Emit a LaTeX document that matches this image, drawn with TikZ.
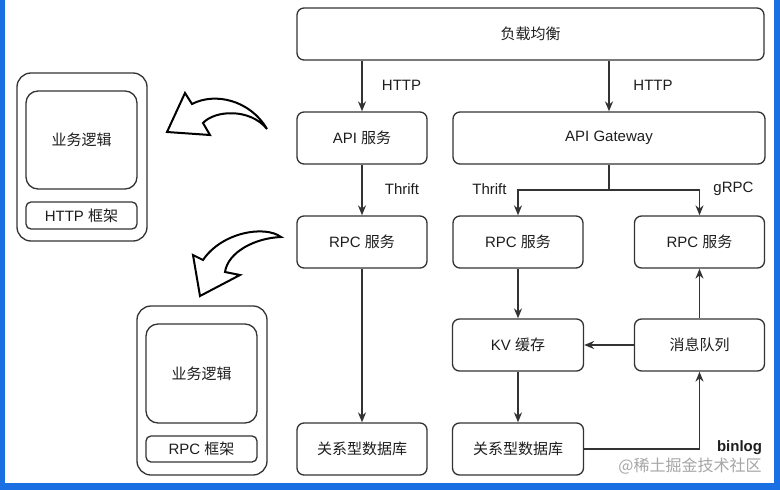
\documentclass[tikz,border=0pt]{standalone}
\usepackage{fontspec}
\setmainfont{Liberation Sans}
\newfontfamily\cjk{Noto Sans CJK SC}
\newcommand\zh[1]{{\cjk #1}}
\usetikzlibrary{arrows.meta}
\definecolor{edge}{HTML}{333333}
\definecolor{txt}{HTML}{1E1E1E}
\definecolor{scrblue}{HTML}{1A6FE3}
\tikzset{
  box/.style={draw=edge, line width=1.3pt, rounded corners=7pt, fill=white,
    text=txt, font=\fontsize{15}{18}\selectfont, inner sep=0pt, minimum height=52pt},
  frame/.style={draw=edge, line width=1.3pt, rounded corners=14pt, inner sep=0pt},
  inner/.style={draw=edge, line width=1.3pt, rounded corners=12pt, inner sep=0pt,
    text=txt, font=\fontsize{15}{18}\selectfont},
  fw/.style={draw=edge, line width=1.3pt, rounded corners=5pt, inner sep=0pt,
    text=txt, font=\fontsize{15}{18}\selectfont},
  lbl/.style={text=txt, font=\fontsize{15}{18}\selectfont, inner sep=0pt},
  conn/.style={draw=edge, line width=1.3pt},
  arr/.style={conn, -{Stealth[length=10pt,width=8pt]}},
  bigarrow/.style={draw=black, line width=2pt, fill=white, line join=miter},
}
\begin{document}
\begin{tikzpicture}[x=1pt,y=-1pt]
\path[use as bounding box, fill=white] (0,0) rectangle (780,490);
% screen border strips
\fill[scrblue] (0,0) rectangle (5,490);
\fill[scrblue] (774,0) rectangle (780,490);
\fill[scrblue] (0,483) rectangle (780,490);

% main boxes
\node[box, minimum width=467pt] (lb) at (530.5,34) {\zh{负载均衡}};
\node[box, minimum width=130pt] (api) at (362,138) {API \zh{服务}};
\node[box, minimum width=312pt] (gw) at (609,138) {API Gateway};
\node[box, minimum width=130pt] (rpc1) at (362,242) {RPC \zh{服务}};
\node[box, minimum width=130pt] (rpc2) at (518,242) {RPC \zh{服务}};
\node[box, minimum width=130pt] (rpc3) at (699.5,242) {RPC \zh{服务}};
\node[box, minimum width=131pt] (kv) at (518,345) {KV \zh{缓存}};
\node[box, minimum width=130pt] (mq) at (699.5,345) {\zh{消息队列}};
\node[box, minimum width=130pt] (db1) at (362,449) {\zh{关系型数据库}};
\node[box, minimum width=131pt] (db2) at (518,449) {\zh{关系型数据库}};

% connectors
\draw[arr] (lb.south -| api.north) -- (api.north);
\draw[arr] (lb.south -| gw.north) -- (gw.north);
\draw[arr] (api.south) -- (rpc1.north);
\draw[arr] (rpc1.south) -- (db1.north);
\coordinate (gwsplit) at (609,190);
\draw[conn] (gw.south) -- (gwsplit);
\draw[arr] (gwsplit) -| (rpc2.north);
\draw[arr] (gwsplit) -| (rpc3.north);
\draw[arr] (rpc2.south) -- (kv.north);
\draw[arr] (kv.south) -- (db2.north);
\draw[arr] (mq.west) -- (kv.east);
\draw[arr] (mq.north) -- (rpc3.south);
\draw[arr] (db2.east) -| (mq.south);

% labels
\node[lbl] (l1) at (401.5,85) {HTTP};
\node[lbl] (l2) at (653,85) {HTTP};
\node[lbl] (l3) at (402,189) {Thrift};
\node[lbl] (l4) at (489.5,189) {Thrift};
\node[lbl] (l5) at (733.5,189) {gRPC};
\node[lbl, font=\fontsize{15}{18}\selectfont\bfseries] (l6) at (739.5,448) {binlog};

% left frames
\node[frame, minimum width=130pt, minimum height=168pt] (f1) at (82,157) {};
\node[inner, minimum width=111pt, minimum height=98pt] (f1in) at (81.5,140) {\zh{业务逻辑}};
\node[fw, minimum width=111pt, minimum height=27pt] (f1fw) at (81.5,215.5) {HTTP \zh{框架}};

\node[frame, minimum width=130pt, minimum height=169pt] (f2) at (202,390.5) {};
\node[inner, minimum width=111pt, minimum height=99pt] (f2in) at (201.5,373.5) {\zh{业务逻辑}};
\node[fw, minimum width=111pt, minimum height=26pt] (f2fw) at (201.5,449) {RPC \zh{框架}};

% curved block arrows
\draw[bigarrow] (267,129) .. controls (250,100) and (215,92) .. (192,104)
  -- (185,93) -- (167,132) -- (210,135) -- (203,123)
  .. controls (215,110) and (250,108) .. (267,129) -- cycle;
\draw[bigarrow] (281,237) .. controls (265,225) and (222,232) .. (203,260)
  -- (193,255) -- (200,296) -- (240,275) -- (225,272)
  .. controls (228,252) and (255,238) .. (281,237) -- cycle;

% watermark
\node[text=black!35, font=\cjk\fontsize{16}{18}\selectfont, inner sep=0pt] (wm) at (690,466) {@稀土掘金技术社区};
\end{tikzpicture}
\end{document}
